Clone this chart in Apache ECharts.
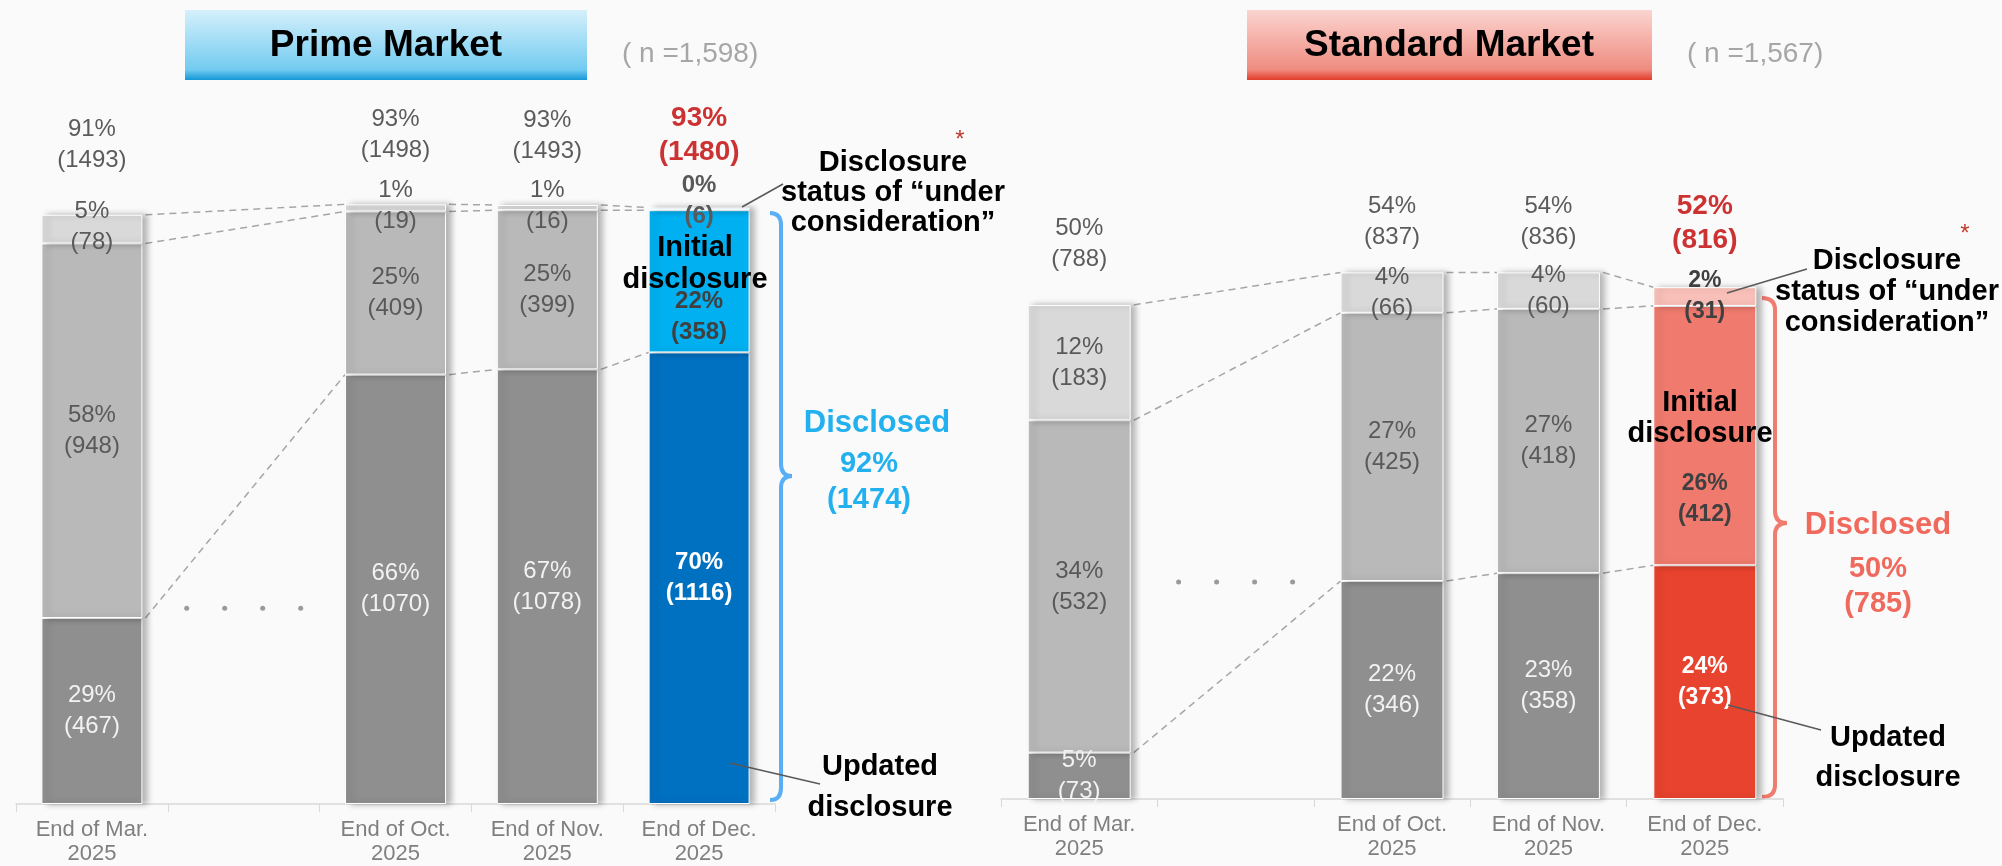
<!DOCTYPE html>
<html>
<head>
<meta charset="utf-8">
<title>Disclosure status – Prime / Standard Market</title>
<script src="https://cdn.jsdelivr.net/npm/echarts@6.0.0/dist/echarts.min.js"></script>
<style>
  html, body { margin: 0; padding: 0; background: #fafafa; }
  #chart { width: 2002px; height: 866px; }
</style>
</head>
<body>
<div id="chart"></div>
<script>
// slot 1 is the "• • • •" gap between Mar. and Oct.
const categories = ['End of Mar.\n2025', '', 'End of Oct.\n2025', 'End of Nov.\n2025', 'End of Dec.\n2025'];

// ==== Prime Market (n=1,598) ====
// *Pct = printed share, *Cnt = printed count, *H = bar length (%)
const primeUpdatedPct = [29, null, 66, 67, 70];
const primeUpdatedCnt = [467, null, 1070, 1078, 1116];
const primeUpdatedH   = [28.5, null, 65.8, 66.6, 69.2];
const primeInitialPct = [58, null, 25, 25, 22];
const primeInitialCnt = [948, null, 409, 399, 358];
const primeInitialH   = [57.4, null, 25.0, 24.4, 21.8];
const primePendingPct = [5, null, 1, 1, 0];
const primePendingCnt = [78, null, 19, 16, 6];
const primePendingH   = [4.4, null, 1.1, 0.8, 0.4];
const primeTotalPct = [91, null, 93, 93, 93];
const primeTotalCnt = [1493, null, 1498, 1493, 1480];

// ==== Standard Market (n=1,567) ====
const stdUpdatedPct = [5, null, 22, 23, 24];
const stdUpdatedCnt = [73, null, 346, 358, 373];
const stdUpdatedH   = [4.7, null, 22.1, 22.9, 23.7];
const stdInitialPct = [34, null, 27, 27, 26];
const stdInitialCnt = [532, null, 425, 418, 412];
const stdInitialH   = [33.7, null, 27.2, 26.8, 26.3];
const stdPendingPct = [12, null, 4, 4, 2];
const stdPendingCnt = [183, null, 66, 60, 31];
const stdPendingH   = [11.7, null, 4.1, 3.7, 1.9];
const stdTotalPct = [50, null, 54, 54, 52];
const stdTotalCnt = [788, null, 837, 836, 816];

const FONT = "'Liberation Sans', Arial, sans-serif";
const LAST = 4;                 // End of Dec. (coloured bar)
const SHOWN = [0, 2, 3, 4];     // slots that hold a bar
const BAR_W = [101, 103];

const chart = echarts.init(document.getElementById('chart'));

const segLabel = (pcts, cnts) => p => `${pcts[p.dataIndex]}%\n(${cnts[p.dataIndex]})`;

function barSeries(axis, stack, heights, pcts, cnts, color, textColor, decColor, decLabel, extraLabel) {
  return {
    type: 'bar', stack, xAxisIndex: axis, yAxisIndex: axis,
    barWidth: BAR_W[axis], z: 3,
    data: heights.map((v, i) => i === LAST
      ? { value: v, itemStyle: { color: decColor }, label: decLabel }
      : v),
    itemStyle: {
      color, borderColor: '#fff', borderWidth: 1,
      shadowColor: 'rgba(0,0,0,0.28)', shadowBlur: 6, shadowOffsetX: 5
    },
    label: Object.assign({
      show: true, position: 'inside', formatter: segLabel(pcts, cnts),
      color: textColor, fontSize: 24, lineHeight: 31, fontFamily: FONT
    }, extraLabel || {}),
    emphasis: { disabled: true }
  };
}

// totals above each bar, sitting on top of the stack
function totalSeries(axis, layers, pcts, cnts, dist) {
  const sums = pcts.map((p, i) => p == null ? null : layers.reduce((s, l) => s + l[i], 0));
  return {
    type: 'scatter', xAxisIndex: axis, yAxisIndex: axis, symbolSize: 0, silent: true, z: 5,
    data: sums.map((v, i) => ({
      value: v,
      label: Object.assign({ distance: dist[i] },
        i === LAST ? { color: '#c00000', fontWeight: 'bold', fontSize: 28, lineHeight: 34 } : {})
    })),
    label: {
      show: true, position: 'top', color: '#333', fontSize: 24, lineHeight: 31, fontFamily: FONT,
      formatter: p => `${pcts[p.dataIndex]}%\n(${cnts[p.dataIndex]})`
    }
  };
}

// dashed lines joining the segment borders of neighbouring bars
function connectorSeries(axis, layers) {
  const data = [];
  for (let k = 0; k < SHOWN.length - 1; k++) {
    const a = SHOWN[k], b = SHOWN[k + 1];
    let ca = 0, cb = 0;
    layers.forEach(l => { ca += l[a]; cb += l[b]; data.push([a, ca, b, cb]); });
  }
  return {
    type: 'custom', xAxisIndex: axis, yAxisIndex: axis, silent: true, z: 1,
    encode: { x: [0, 2], y: [1, 3] },
    data,
    renderItem: (params, api) => {
      const p1 = api.coord([api.value(0), api.value(1)]);
      const p2 = api.coord([api.value(2), api.value(3)]);
      const hw = BAR_W[axis] / 2;
      return {
        type: 'line',
        shape: { x1: p1[0] + hw + 3, y1: p1[1], x2: p2[0] - hw, y2: p2[1] },
        style: { stroke: '#a6a6a6', lineWidth: 1.5, lineDash: [7, 5] }
      };
    }
  };
}

function dotSeries(axis, y) {
  return {
    type: 'custom', xAxisIndex: axis, yAxisIndex: axis, silent: true,
    data: [[1, y]],
    renderItem: (params, api) => {
      const c = api.coord([api.value(0), api.value(1)]);
      return {
        type: 'group',
        children: [-57, -19, 19, 57].map(dx => ({
          type: 'circle', shape: { cx: c[0] + dx, cy: c[1], r: 2.5 }, style: { fill: '#9a9a9a' }
        }))
      };
    }
  };
}

const primeLayers = [primeUpdatedH, primeInitialH, primePendingH];
const stdLayers = [stdUpdatedH, stdInitialH, stdPendingH];

// ---- annotation helpers (graphic layer) ----
const txt = (text, x, y, o) => ({
  type: 'text', x, y, z: 100, silent: true,
  style: Object.assign({
    text, fill: '#000', font: `bold 29px ${FONT}`, textAlign: 'center', textVerticalAlign: 'middle', lineHeight: 31
  }, o || {})
});
const line = (x1, y1, x2, y2) => ({
  type: 'line', z: 100, silent: true, shape: { x1, y1, x2, y2 }, style: { stroke: '#595959', lineWidth: 1.5 }
});
// curly brace "}" made of quadratic curves and straight pieces
const brace = (x0, x1, xt, yTop, yTip, yBot, color) => {
  const st = { stroke: color, lineWidth: 4, fill: null };
  const curve = (ax, ay, bx, by, cx, cy) => ({ type: 'bezierCurve', shape: { x1: ax, y1: ay, x2: bx, y2: by, cpx1: cx, cpy1: cy }, style: st });
  const seg = (ax, ay, bx, by) => ({ type: 'line', shape: { x1: ax, y1: ay, x2: bx, y2: by }, style: st });
  return {
    type: 'group', z: 100, silent: true,
    children: [
      curve(x0, yTop, x1, yTop + 12, x1, yTop),
      seg(x1, yTop + 12, x1, yTip - 12),
      curve(x1, yTip - 12, xt, yTip, x1, yTip),
      curve(xt, yTip, x1, yTip + 12, x1, yTip),
      seg(x1, yTip + 12, x1, yBot - 12),
      curve(x1, yBot - 12, x0, yBot, x1, yBot)
    ]
  };
};
const titleBox = (x, w, c0, c1, c2) => ({
  type: 'rect', z: 90, silent: true, shape: { x, y: 10, width: w, height: 70 },
  style: {
    fill: new echarts.graphic.LinearGradient(0, 0, 0, 1, [
      { offset: 0, color: c0 }, { offset: 0.85, color: c1 }, { offset: 1, color: c2 }
    ])
  }
});
const halo = { shadowColor: 'rgba(255,255,255,0.95)', shadowBlur: 4 };

chart.setOption({
  backgroundColor: '#fafafa',
  animation: false,
  textStyle: { fontFamily: FONT },
  grid: [
    { left: 16, width: 759, top: 158, height: 650 },
    { left: 1001, width: 782, top: 158, height: 641 }
  ],
  xAxis: [0, 1].map(i => ({
    type: 'category', gridIndex: i, data: categories,
    axisLine: { lineStyle: { color: '#d9d9d9', width: 1.5 } },
    axisTick: { show: true, length: 8, lineStyle: { color: '#d9d9d9' } },
    axisLabel: { color: '#7f7f7f', fontSize: 22, lineHeight: 24, margin: 14, interval: 0, fontFamily: FONT },
    splitLine: { show: false }
  })),
  yAxis: [
    { type: 'value', gridIndex: 0, min: 0, max: 99, show: false },
    { type: 'value', gridIndex: 1, min: 0, max: 65, show: false }
  ],
  series: [
    // Prime
    barSeries(0, 'prime', primeUpdatedH, primeUpdatedPct, primeUpdatedCnt, '#8f8f8f', '#f2f2f2', '#0070c0',
      { color: '#fff', fontWeight: 'bold' }),
    barSeries(0, 'prime', primeInitialH, primeInitialPct, primeInitialCnt, '#b9b9b9', '#595959', '#00b0f0',
      { color: '#404040', fontWeight: 'bold', offset: [0, 36] }),
    barSeries(0, 'prime', primePendingH, primePendingPct, primePendingCnt, '#d9d9d9', '#595959', '#d6f1fb',
      { color: '#595959', fontWeight: 'bold', offset: [0, -8] }, { offset: [0, -2] }),
    totalSeries(0, primeLayers, primeTotalPct, primeTotalCnt, [39, null, 38, 38, 38]),
    connectorSeries(0, primeLayers),
    dotSeries(0, 30),
    // Standard
    barSeries(1, 'std', stdUpdatedH, stdUpdatedPct, stdUpdatedCnt, '#8f8f8f', '#f2f2f2', '#e8432e',
      { color: '#fff', fontWeight: 'bold', fontSize: 23 }),
    barSeries(1, 'std', stdInitialH, stdInitialPct, stdInitialCnt, '#b9b9b9', '#595959', '#f07a6e',
      { color: '#404040', fontWeight: 'bold', fontSize: 23, offset: [0, 64] }),
    barSeries(1, 'std', stdPendingH, stdPendingPct, stdPendingCnt, '#d9d9d9', '#595959', '#f8c0b8',
      { color: '#404040', fontWeight: 'bold', fontSize: 23 }),
    totalSeries(1, stdLayers, stdTotalPct, stdTotalCnt, [30, null, 20, 20, 30]),
    connectorSeries(1, stdLayers),
    dotSeries(1, 22)
  ],
  graphic: [
    // ---- Prime Market ----
    titleBox(185, 402, '#d5f0fb', '#72cbf0', '#1598d8'),
    txt('Prime Market', 386, 46, { font: `bold 37px ${FONT}` }),
    txt('( n =1,598)', 622, 54, { font: `28px ${FONT}`, fill: '#a6a6a6', textAlign: 'left' }),
    txt('Disclosure\nstatus of \u201cunder\nconsideration\u201d', 893, 193, { lineHeight: 30 }),
    txt('*', 960, 140, { font: `24px ${FONT}`, fill: '#c0392b' }),
    line(742, 207, 783, 184),
    txt('Initial\ndisclosure', 695, 264, Object.assign({ lineHeight: 32 }, halo)),
    brace(770, 781, 792, 213, 476, 800, '#5aaef5'),
    txt('Disclosed', 877, 423, { font: `bold 31px ${FONT}`, fill: '#22b0ee' }),
    txt('92%\n(1474)', 869, 482, { font: `bold 29px ${FONT}`, fill: '#22b0ee', lineHeight: 36 }),
    line(730, 763, 820, 784),
    txt('Updated\ndisclosure', 880, 787, { lineHeight: 41 }),

    // ---- Standard Market ----
    titleBox(1247, 405, '#fbd4cf', '#ef8c80', '#e23c29'),
    txt('Standard Market', 1449, 46, { font: `bold 37px ${FONT}` }),
    txt('( n =1,567)', 1687, 54, { font: `28px ${FONT}`, fill: '#a6a6a6', textAlign: 'left' }),
    txt('Disclosure\nstatus of \u201cunder\nconsideration\u201d', 1887, 292, { lineHeight: 31 }),
    txt('*', 1965, 234, { font: `24px ${FONT}`, fill: '#c0392b' }),
    line(1727, 293, 1807, 269),
    txt('Initial\ndisclosure', 1700, 418, Object.assign({ lineHeight: 31 }, halo)),
    brace(1762, 1775, 1787, 298, 523, 797, '#f07b6f'),
    txt('Disclosed', 1878, 525, { font: `bold 31px ${FONT}`, fill: '#ef6a5d' }),
    txt('50%\n(785)', 1878, 586, { font: `bold 29px ${FONT}`, fill: '#ef6a5d', lineHeight: 35 }),
    line(1728, 705, 1821, 730),
    txt('Updated\ndisclosure', 1888, 758, { lineHeight: 40 })
  ]
});
</script>
</body>
</html>
